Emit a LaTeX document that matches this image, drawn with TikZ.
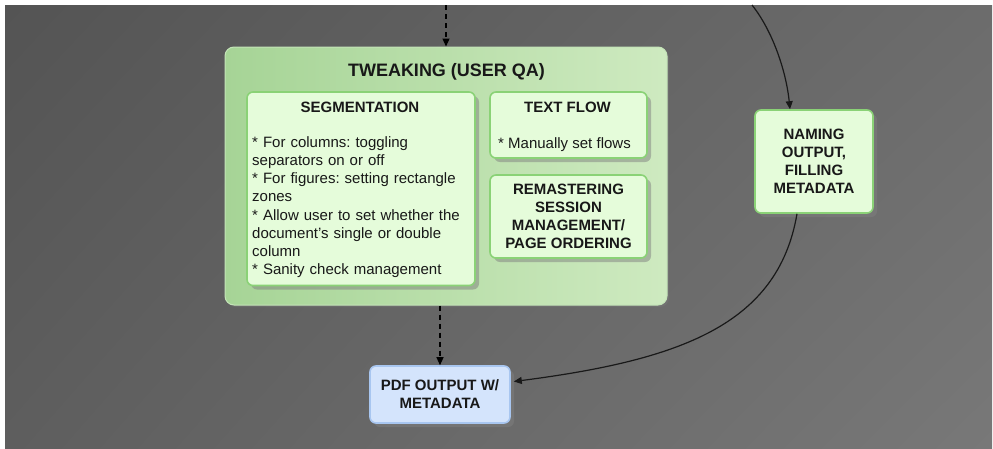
\documentclass[tikz,border=0pt]{standalone}
\usepackage{fontspec}
\setmainfont{Liberation Sans}
\frenchspacing
\usetikzlibrary{arrows.meta,shadows,calc,shadings}
\definecolor{bgTL}{RGB}{84,84,84}
\definecolor{bgTR}{RGB}{108,108,108}
\definecolor{bgBL}{RGB}{94,94,94}
\definecolor{bgBR}{RGB}{120,120,120}
\definecolor{grpL}{RGB}{166,212,150}
\definecolor{grpR}{RGB}{206,234,192}
\definecolor{grpBorder}{RGB}{196,228,184}
\definecolor{gFill}{RGB}{229,252,218}
\definecolor{gBorder}{RGB}{138,210,118}
\definecolor{bFill}{RGB}{212,228,252}
\definecolor{bBorder}{RGB}{168,198,240}
\definecolor{txt}{RGB}{24,24,24}
\begin{document}
\begin{tikzpicture}[x=1pt,y=-1pt,
  grpbox/.style={draw=grpBorder, line width=1pt, left color=grpL, right color=grpR,
    rounded corners=9pt, inner sep=0pt,
    drop shadow={shadow xshift=2pt, shadow yshift=-2pt, opacity=0.3}},
  greenbox/.style={draw=gBorder, line width=1.6pt, fill=gFill, rounded corners=6pt,
    inner sep=0pt, align=center, text=txt,
    font=\bfseries\fontsize{15}{18}\selectfont,
    drop shadow={shadow xshift=4pt, shadow yshift=-4pt, opacity=0.5}},
  bluebox/.style={greenbox, draw=bBorder, fill=bFill},
  titletext/.style={inner sep=0pt, text=txt, font=\bfseries\fontsize{15}{18}\selectfont},
  bodytext/.style={inner sep=0pt, text=txt, font=\fontsize{15}{18.2}\selectfont},
  dasharrow/.style={draw=black, line width=1.2pt, dash pattern=on 5pt off 4pt,
    -{Triangle[length=8pt,width=7pt]}},
  curvearrow/.style={draw=black!90, line width=1.2pt, -{Triangle[length=8pt,width=7pt]}}
]
\useasboundingbox (0,0) rectangle (993,448);
\fill[white] (0,0) rectangle (993,448);
\shade[upper left=bgTL, upper right=bgTR, lower left=bgBL, lower right=bgBR] (5,5) rectangle (992,448);

% group
\node[grpbox, minimum width=442pt, minimum height=258pt] (grp) at (446,176) {};
\node[titletext, font=\bfseries\fontsize{18}{21}\selectfont, anchor=base] (grpT) at (446.5,76.7) {TWEAKING (USER QA)};

% inner boxes
\node[greenbox, minimum width=228pt, minimum height=193.5pt] (seg) at (361,188.75) {};
\node[titletext, anchor=base] (segT) at (360,112.7) {SEGMENTATION};
\node[bodytext, anchor=north west, text width=222pt, align=left] (segB) at (252,136.2)
  {* For columns: toggling\\{}separators on or off\\{}* For figures: setting rectangle\\{}zones\\{}* Allow user to set whether the\\{}document's single or double\\{}column\\{}* Sanity check management};

\node[greenbox, minimum width=157pt, minimum height=66pt] (tf) at (568.5,125) {};
\node[titletext, anchor=base] (tfT) at (567.5,112.7) {TEXT FLOW};
\node[bodytext, anchor=base] (tfB) at (564.5,148) {* Manually set flows};

\node[greenbox, minimum width=157pt, minimum height=83pt] (rem) at (568.5,216.5)
  {REMASTERING\\SESSION\\MANAGEMENT/\\PAGE ORDERING};

% outside boxes
\node[greenbox, minimum width=118pt, minimum height=103pt] (nam) at (814,161.5)
  {NAMING\\OUTPUT,\\FILLING\\METADATA};
\node[bluebox, minimum width=140pt, minimum height=57pt] (pdf) at (440,394.5)
  {PDF OUTPUT W/\\METADATA};

% connectors
\coordinate (inA) at (446,5);
\coordinate (inB) at (752,5);
\draw[dasharrow] (inA) -- (grp.north);
\draw[dasharrow] (pdf.north |- grp.south) -- (pdf.north);
\draw[curvearrow] (inB) .. controls (772,30) and (786,70) .. ($(nam.north)+(-24,0)$);
\draw[curvearrow] ($(nam.south)+(-17,0)$) .. controls (778,325) and (680,360) .. ($(pdf.east)+(3,-13)$);
\end{tikzpicture}
\end{document}
